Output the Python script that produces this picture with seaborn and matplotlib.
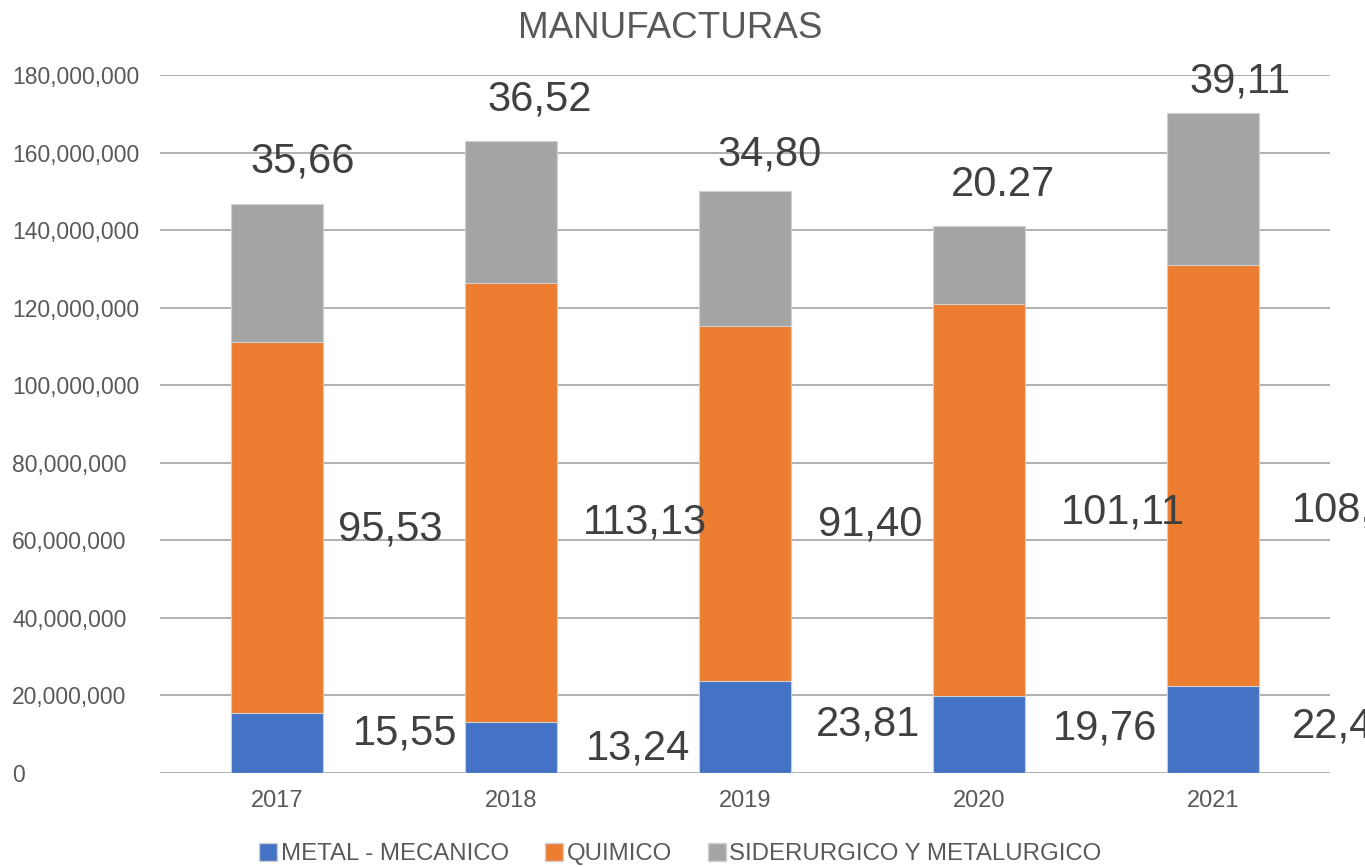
import matplotlib
matplotlib.use("Agg")
import matplotlib.pyplot as plt
import matplotlib.patches as mpatches
import seaborn as sns
import pandas as pd
import numpy as np

# ---- data ----
years = ["2017", "2018", "2019", "2020", "2021"]
metal_mecanico = [15.55e6, 13.24e6, 23.81e6, 19.76e6, 22.4e6]
quimico = [95.53e6, 113.13e6, 91.40e6, 101.11e6, 108.6e6]
siderurgico = [35.66e6, 36.52e6, 34.80e6, 20.27e6, 39.11e6]
series_names = ["METAL - MECANICO", "QUIMICO", "SIDERURGICO Y METALURGICO"]
colors = ["#4472C4", "#ED7D31", "#A5A5A5"]

# overlay labels as shown on the chart
labels_sider = ["35,66", "36,52", "34,80", "20.27", "39,11"]
labels_quim = ["95,53", "113,13", "91,40", "101,11", "108,60"]
labels_metal = ["15,55", "13,24", "23,81", "19,76", "22,40"]

sns.set_theme(style="white")
plt.rcParams["font.family"] = ["Liberation Sans", "DejaVu Sans"]

df = pd.DataFrame({"year": years,
                   "metal": metal_mecanico,
                   "quimico": quimico,
                   "sider": siderurgico})
df["c1"] = df["metal"]
df["c2"] = df["metal"] + df["quimico"]
df["c3"] = df["c2"] + df["sider"]

fig = plt.figure(figsize=(13.65, 8.67), dpi=100)
ax = fig.add_axes([160 / 1365, 1 - 773 / 867, 1170 / 1365, 698 / 867])

for col, c in zip(["c3", "c2", "c1"], colors[::-1]):
    sns.barplot(data=df, x="year", y=col, color=c, ax=ax, width=0.39,
                edgecolor="#d0d0d0", linewidth=0.8, saturation=1, zorder=3)

ax.set_xlim(-0.5, 4.5)
ax.set_ylim(0, 180e6)
ax.set_yticks(np.arange(0, 180e6 + 1, 20e6))
ax.set_yticklabels([f"{int(v):,}" for v in np.arange(0, 180e6 + 1, 20e6)])
ax.yaxis.grid(True, color="#b0b0b0", linewidth=1.4, zorder=0)
ax.set_axisbelow(True)
for s in ax.spines.values():
    s.set_visible(False)
ax.set_xlabel("")
ax.set_ylabel("")
ax.tick_params(axis="y", length=0, pad=106.5, labelsize=16.5, labelcolor="#595959")
for lab in ax.get_yticklabels():
    lab.set_horizontalalignment("left")
ax.tick_params(axis="x", length=0, pad=12, labelsize=17, labelcolor="#595959")

fig.text(0.491, 1 - 29 / 867, "MANUFACTURAS", ha="center", va="center",
         fontsize=26.5, color="#595959")

# overlay value labels
num_kw = dict(fontsize=30, color="#404040", zorder=5, clip_on=False)
sider_pos = [(0.111, 157.6e6), (1.124, 173.6e6), (2.107, 159.4e6), (3.103, 151.6e6), (4.115, 178.2e6)]
quim_pos = [(0.483, 62.7e6), (1.573, 64.7e6), (2.534, 64.0e6), (3.615, 67.3e6), (4.338, 67.8e6)]
metal_pos = [(0.547, 10.3e6), (1.543, 6.4e6), (2.526, 12.4e6), (3.538, 11.6e6), (4.338, 11.9e6)]
for i, (t, (x, y)) in enumerate(zip(labels_sider, sider_pos)):
    ax.text(x, y, t, ha="center", va="center", **num_kw)
for i, (t, (x, y)) in enumerate(zip(labels_quim, quim_pos)):
    ax.text(x, y, t, ha="left" if i == 4 else "center", va="center", **num_kw)
for i, (t, (x, y)) in enumerate(zip(labels_metal, metal_pos)):
    ax.text(x, y, t, ha="left" if i == 4 else "center", va="center", **num_kw)

handles = [mpatches.Patch(facecolor=c, edgecolor="#d0d0d0", label=n)
           for c, n in zip(colors, series_names)]
fig.legend(handles=handles, loc="center", bbox_to_anchor=(0.4985, 1 - 854 / 867),
           ncol=3, frameon=False, fontsize=17.3, labelcolor="#595959",
           handlelength=0.75, handleheight=0.75, handletextpad=0.15, columnspacing=1.5)

fig.savefig("out.png", dpi=100)
